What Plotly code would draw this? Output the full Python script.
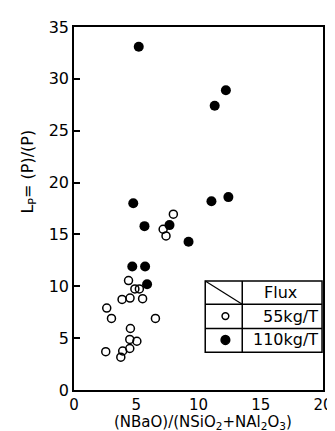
import plotly.graph_objects as go

# Data
flux55_x = [7.98, 7.16, 7.39, 4.38, 4.89, 5.25, 3.86, 4.50, 5.51, 2.63, 3.01, 6.54, 4.53, 4.48, 5.05, 4.48, 2.55, 3.91, 3.76]
flux55_y = [16.95, 15.5, 14.85, 10.55, 9.75, 9.75, 8.73, 8.86, 8.8, 7.9, 6.9, 6.9, 5.93, 4.88, 4.7, 4.0, 3.7, 3.76, 3.16]
flux110_x = [5.2, 12.2, 11.3, 4.76, 11.04, 12.4, 5.66, 7.67, 9.2, 4.68, 5.71, 5.87]
flux110_y = [33.1, 28.9, 27.4, 18.0, 18.2, 18.6, 15.8, 15.9, 14.3, 11.9, 11.9, 10.2]

x_ticks = [0, 5, 10, 15, 20]
y_ticks = [0, 5, 10, 15, 20, 25, 30, 35]
legend_title = "Flux"
legend_labels = ["55kg/T", "110kg/T"]

FONT = "DejaVu Sans"
W, H = 335, 431
L, R, T, B = 66, 325, 16, 382


def px(x):
    return (x - L) / (R - L)


def py(y):
    return (B - y) / (B - T)


fig = go.Figure()
fig.add_trace(go.Scatter(
    x=flux55_x, y=flux55_y, mode="markers", name=legend_labels[0],
    marker=dict(symbol="circle-open", size=8, color="black", line=dict(width=1.5, color="black")),
    showlegend=False, cliponaxis=False))
fig.add_trace(go.Scatter(
    x=flux110_x, y=flux110_y, mode="markers", name=legend_labels[1],
    marker=dict(symbol="circle", size=10, color="black"),
    showlegend=False, cliponaxis=False))

shapes = []
line = dict(color="black", width=1.5)
# legend table
bx0, bx1, by0, by1 = 202.5, 324, 272, 344
r1, r2, cdiv = 295.5, 320, 241
shapes.append(dict(type="rect", xref="paper", yref="paper", x0=px(bx0), x1=px(bx1), y0=py(by1), y1=py(by0), line=line))
shapes.append(dict(type="line", xref="paper", yref="paper", x0=px(bx0), x1=px(bx1), y0=py(r1), y1=py(r1), line=line))
shapes.append(dict(type="line", xref="paper", yref="paper", x0=px(bx0), x1=px(bx1), y0=py(r2), y1=py(r2), line=line))
shapes.append(dict(type="line", xref="paper", yref="paper", x0=px(cdiv), x1=px(cdiv), y0=py(by1), y1=py(by0), line=line))
shapes.append(dict(type="line", xref="paper", yref="paper", x0=px(bx0), x1=px(cdiv), y0=py(by0), y1=py(r1), line=dict(color="black", width=1.2)))
# legend markers
for cy, filled in [(307.5, False), (331.5, True)]:
    r = 3.5 if not filled else 4.5
    shapes.append(dict(type="circle", xref="paper", yref="paper",
                       x0=px(223.5 - r), x1=px(223.5 + r), y0=py(cy + r), y1=py(cy - r),
                       line=dict(color="black", width=1.5),
                       fillcolor="black" if filled else "white"))

annotations = [
    dict(text=legend_title, xref="paper", yref="paper", x=px(281), y=py(283.5), showarrow=False,
         font=dict(family=FONT, size=16, color="black"), xanchor="center", yanchor="middle"),
    dict(text=legend_labels[0], xref="paper", yref="paper", x=px(322), y=py(307.5), showarrow=False,
         font=dict(family=FONT, size=16, color="black"), xanchor="right", yanchor="middle"),
    dict(text=legend_labels[1], xref="paper", yref="paper", x=px(322), y=py(331.5), showarrow=False,
         font=dict(family=FONT, size=16, color="black"), xanchor="right", yanchor="middle"),
    dict(text="L<sub>P</sub>= (P)/(P)", xref="paper", yref="paper", x=px(19), y=py(162), showarrow=False,
         textangle=-90, font=dict(family=FONT, size=16, color="black"), xanchor="center", yanchor="middle"),
    dict(text="(NBaO)/(NSiO<sub>2</sub>+NAl<sub>2</sub>O<sub>3</sub>)", xref="paper", yref="paper",
         x=px(200), y=py(415), showarrow=False,
         font=dict(family=FONT, size=15, color="black"), xanchor="center", yanchor="middle"),
]

fig.update_layout(
    width=W, height=H,
    margin=dict(l=L, r=W - R, t=T, b=H - B, pad=0),
    paper_bgcolor="white", plot_bgcolor="white",
    shapes=shapes, annotations=annotations,
    font=dict(family=FONT, size=16, color="black"),
)
fig.update_xaxes(range=[0, 20], tickvals=x_ticks, ticktext=[str(v) for v in x_ticks],
                 showgrid=False, zeroline=False, showline=True, mirror=True,
                 linecolor="black", linewidth=1.5, ticks="", tickfont=dict(family=FONT, size=15))
fig.update_yaxes(range=[0, 35], tickvals=y_ticks, ticktext=[str(v) for v in y_ticks],
                 showgrid=False, zeroline=False, showline=True, mirror=True,
                 linecolor="black", linewidth=1.5, ticks="inside", ticklen=6, tickwidth=1.5,
                 tickcolor="black", tickfont=dict(family=FONT, size=16))

fig.write_html("out.html")
